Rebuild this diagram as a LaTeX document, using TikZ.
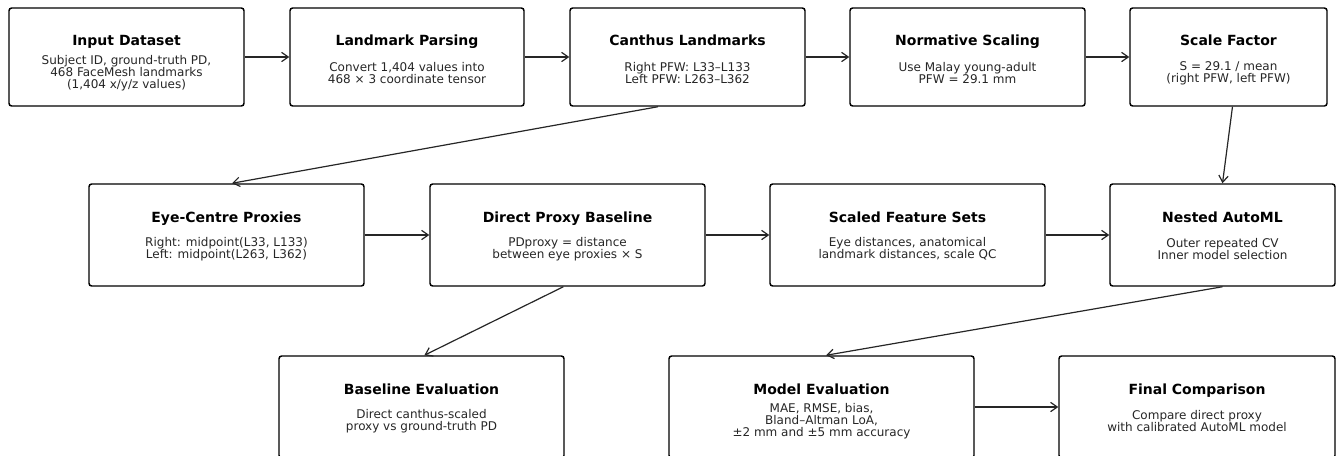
\documentclass[tikz,border=0pt]{standalone}
\usepackage{fontspec}
\setmainfont{DejaVu Sans}
\usetikzlibrary{arrows.meta,calc}
\tikzset{
  x=0.75pt,y=-0.75pt,
  stagebox/.style={draw=black,line width=1.1pt,rounded corners=2pt,inner sep=0pt},
  stagetitle/.style={font=\bfseries\fontsize{10.5}{12}\selectfont,inner sep=0pt,align=center,anchor=base},
  stagebody/.style={font=\fontsize{9}{8.9}\selectfont,inner sep=0pt,align=center,text=black!85},
  flow/.style={draw=black!85,line width=0.9pt,-{Straight Barb[length=5pt,width=7pt,line width=0.9pt]}},
}
% name, cx, cy, w, h, title, body, title baseline dy, body dy
\newcommand{\stage}[9]{%
  \node[stagebox,minimum width=#4*0.75pt,minimum height=#5*0.75pt] (#1) at (#2,#3) {};
  \node[stagetitle] (#1-t) at (#2,#3+#8) {#6};
  \node[stagebody] (#1-b) at (#2,#3+#9) {#7};
}
\begin{document}
\begin{tikzpicture}
\useasboundingbox (0,0) rectangle (1336,455);
% row 1
\stage{in}{126.5}{57}{235}{98}{Input Dataset}{Subject ID, ground-truth PD,\\468 FaceMesh landmarks\\(1,404 x/y/z values)}{-12}{16}
\stage{parse}{407}{57}{234}{98}{Landmark Parsing}{Convert 1,404 values into\\468 × 3 coordinate tensor}{-12}{16}
\stage{canth}{687.5}{57}{235}{98}{Canthus Landmarks}{Right PFW: L33–L133\\Left PFW: L263–L362}{-12}{16}
\stage{norm}{967.5}{57}{235}{98}{Normative Scaling}{Use Malay young-adult\\PFW = 29.1 mm}{-12}{16}
\stage{scale}{1228.5}{57}{197}{98}{Scale Factor}{S = 29.1 / mean\\(right PFW, left PFW)}{-12}{16}
% row 2
\stage{eye}{226.5}{235}{275}{102}{Eye-Centre Proxies}{Right: midpoint(L33, L133)\\Left: midpoint(L263, L362)}{-13}{14}
\stage{direct}{567.5}{235}{275}{102}{Direct Proxy Baseline}{PDproxy = distance\\between eye proxies × S}{-13}{14}
\stage{feat}{907.5}{235}{275}{102}{Scaled Feature Sets}{Eye distances, anatomical\\landmark distances, scale QC}{-13}{14}
\stage{automl}{1222.5}{235}{225}{102}{Nested AutoML}{Outer repeated CV\\Inner model selection}{-13}{14}
% row 3
\stage{base}{421.5}{407}{285}{102}{Baseline Evaluation}{Direct canthus-scaled\\proxy vs ground-truth PD}{-13}{14}
\stage{model}{821.5}{407}{305}{102}{Model Evaluation}{MAE, RMSE, bias,\\Bland–Altman LoA,\\±2 mm and ±5 mm accuracy}{-13}{14}
\stage{final}{1197}{407}{276}{102}{Final Comparison}{Compare direct proxy\\with calibrated AutoML model}{-13}{14}
% connectors
\draw[flow] (in.east) -- (parse.west);
\draw[flow] (parse.east) -- (canth.west);
\draw[flow] (canth.east) -- (norm.west);
\draw[flow] (norm.east) -- (scale.west);
\draw[flow] ($(canth.south west)!0.375!(canth.south east)$) -- ($(eye.north west)!0.52!(eye.north east)$);
\draw[flow] ($(scale.south west)!0.52!(scale.south east)$) -- (automl.north);
\draw[flow] (eye.east) -- (direct.west);
\draw[flow] (direct.east) -- (feat.west);
\draw[flow] (feat.east) -- (automl.west);
\draw[flow] ($(direct.south west)!0.485!(direct.south east)$) -- ($(base.north west)!0.51!(base.north east)$);
\draw[flow] (automl.south) -- ($(model.north west)!0.515!(model.north east)$);
\draw[flow] (model.east) -- (final.west);
\end{tikzpicture}
\end{document}
